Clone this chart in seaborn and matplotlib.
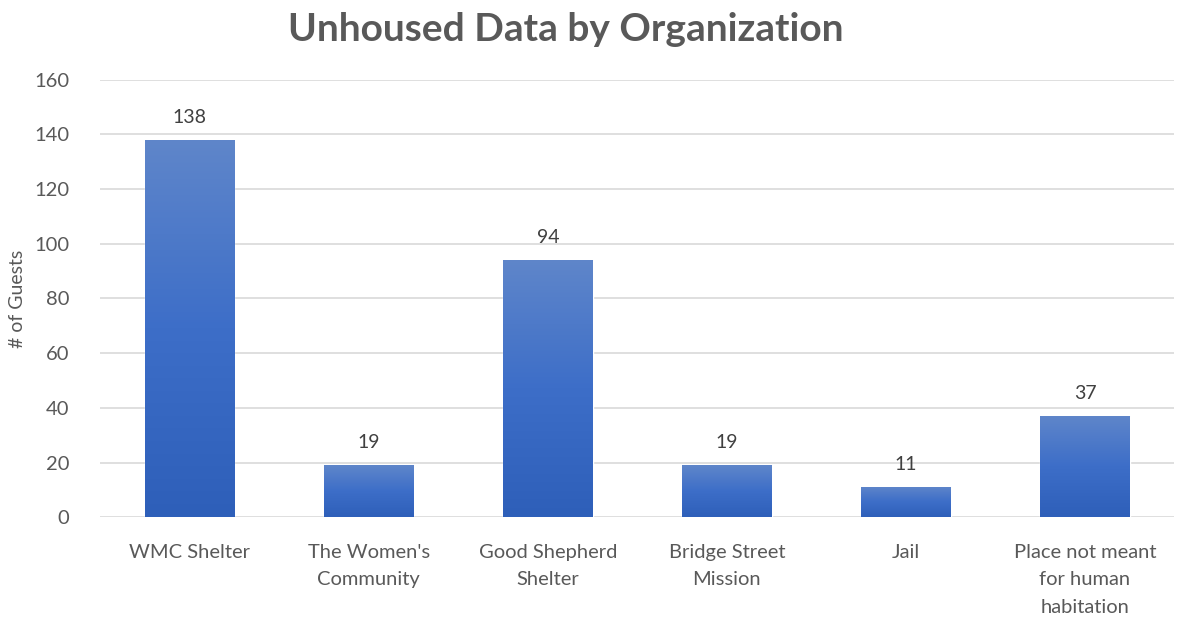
import numpy as np
import pandas as pd
import matplotlib
matplotlib.use("Agg")
import matplotlib.pyplot as plt
import matplotlib.patheffects as pe
from matplotlib.colors import LinearSegmentedColormap
import seaborn as sns

# data
organizations = ["WMC Shelter", "The Women's\nCommunity", "Good Shepherd\nShelter",
                 "Bridge Street\nMission", "Jail", "Place not meant\nfor human\nhabitation"]
guests = [138, 19, 94, 19, 11, 37]
y_ticks = [0, 20, 40, 60, 80, 100, 120, 140, 160]

df = pd.DataFrame({"organization": organizations, "guests": guests})

sns.set_style("white")
plt.rcParams["font.family"] = ["Lato", "DejaVu Sans"]

fig = plt.figure(figsize=(11.78, 6.18), dpi=100)
ax = fig.add_axes([0.085, 0.163, 0.912, 0.708])

sns.barplot(data=df, x="organization", y="guests", color="#4472c4", width=0.5, ax=ax, zorder=3)

# gradient fill + soft shadow under each bar
grad = LinearSegmentedColormap.from_list("bar", ["#2e5fb9", "#3d6ec8", "#5f86ca"])
for bar in ax.patches:
    x0, y0 = bar.get_x(), bar.get_y()
    w, h = bar.get_width(), bar.get_height()
    bar.set_path_effects([pe.SimplePatchShadow(offset=(0, -2.5), shadow_rgbFace="#808080", alpha=0.4),
                          pe.Normal()])
    img = ax.imshow(np.linspace(0, 1, 256).reshape(-1, 1), cmap=grad, origin="lower",
                    extent=[x0, x0 + w, y0, y0 + h], aspect="auto", zorder=4)
    img.set_clip_path(bar)

for i, v in enumerate(guests):
    ax.annotate(str(v), (i, v), xytext=(0, 10), textcoords="offset points",
                ha="center", va="bottom", fontsize=14, color="#404040")

ax.set_xlim(-0.5, len(organizations) - 0.5)
ax.set_ylim(0, 160)
ax.set_yticks(y_ticks)
ax.yaxis.grid(True, color="#d9d9d9", linewidth=1.2, zorder=0)
ax.set_axisbelow(True)
for s in ax.spines.values():
    s.set_visible(False)
ax.tick_params(axis="both", length=0, labelsize=14.5, labelcolor="#595959")
ax.tick_params(axis="y", pad=22)
ax.tick_params(axis="x", pad=19)
for lbl in ax.get_xticklabels():
    lbl.set_linespacing(1.75)
ax.set_xlabel("")
ax.set_ylabel("# of Guests", fontsize=14, color="#595959", labelpad=6)

fig.suptitle("Unhoused Data by Organization", x=0.48, y=0.98, fontsize=28,
             fontweight="bold", color="#595959")

fig.savefig("out.png", dpi=100)
